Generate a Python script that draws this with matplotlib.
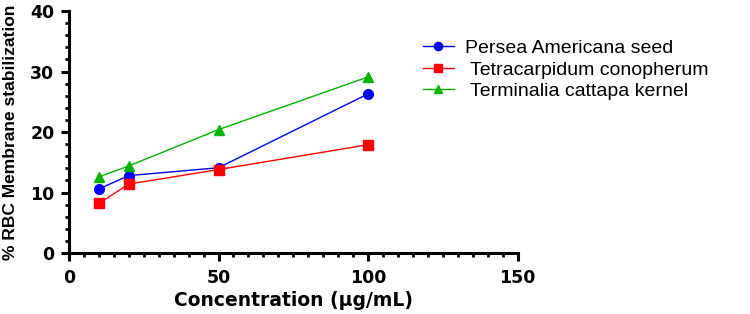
import matplotlib
matplotlib.use("Agg")
import matplotlib.pyplot as plt
from matplotlib.ticker import MultipleLocator

# Data
conc = [10, 20, 50, 100]
persea = [10.6, 12.8, 14.1, 26.3]
tetra = [8.2, 11.4, 13.8, 17.9]
termin = [12.6, 14.4, 20.4, 29.1]
labels = ["Persea Americana seed", " Tetracarpidum conopherum", " Terminalia cattapa kernel"]

fig = plt.figure(figsize=(7.5, 3.14), dpi=100)
ax = fig.add_axes([0.092, 0.194, 0.598, 0.771])

l1, = ax.plot(conc, persea, color="#0000FF", marker="o", markersize=7, linewidth=1, clip_on=False)
l2, = ax.plot(conc, tetra, color="#FF0000", marker="s", markersize=6.5, linewidth=1, clip_on=False)
l3, = ax.plot(conc, termin, color="#00B400", marker="^", markersize=7.5, linewidth=1, clip_on=False)

ax.set_xlim(0, 150)
ax.set_ylim(0, 40)
ax.xaxis.set_major_locator(MultipleLocator(50))
ax.xaxis.set_minor_locator(MultipleLocator(5))
ax.yaxis.set_major_locator(MultipleLocator(10))
ax.yaxis.set_minor_locator(MultipleLocator(2))

for s in ["top", "right"]:
    ax.spines[s].set_visible(False)
for s in ["left", "bottom"]:
    ax.spines[s].set_linewidth(2.2)

ax.tick_params(which="major", length=5.5, width=2.2)
ax.tick_params(axis="x", which="major", pad=6)
ax.tick_params(axis="y", which="major", pad=5)
ax.tick_params(which="minor", length=3, width=2)
for t in ax.get_xticklabels() + ax.get_yticklabels():
    t.set_fontfamily("DejaVu Sans")
    t.set_fontweight("bold")
    t.set_fontsize(12.5)

ax.set_xlabel("Concentration (µg/mL)", fontsize=13.5, fontweight="bold",
              family="DejaVu Sans", labelpad=3)
ax.set_ylabel("% RBC Membrane stabilization", fontsize=12.5, fontweight="bold",
              family="Liberation Sans", labelpad=9)

fig.legend([l1, l2, l3], labels, loc="upper left", bbox_to_anchor=(0.54, 0.93),
           frameon=False, prop={"family": "Liberation Sans", "size": 14},
           handlelength=1.6, handletextpad=0.6, labelspacing=0.2, markerscale=0.85)

fig.savefig("out.png", dpi=100)
